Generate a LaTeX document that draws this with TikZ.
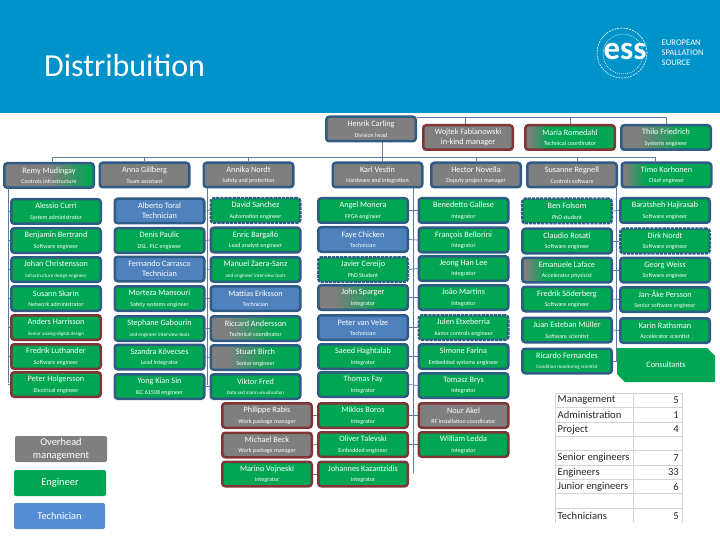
\documentclass[tikz,border=0pt]{standalone}
\usepackage{fontspec}
\setmainfont{Carlito}
\usetikzlibrary{shapes.misc}
\definecolor{essblue}{HTML}{0093C9}
\definecolor{boxgreen}{HTML}{00A651}
\definecolor{boxgray}{HTML}{7F7F7F}
\definecolor{boxblue}{HTML}{4F81BD}
\definecolor{legblue}{HTML}{558ED5}
\definecolor{edgeblue}{HTML}{2F5C85}
\definecolor{edgered}{HTML}{7F3535}
\definecolor{wireblue}{HTML}{5B7C9C}
\definecolor{cellgray}{HTML}{D4D4D4}
\pgfdeclarehorizontalshading{graystart}{100bp}{color(0bp)=(boxgray); color(27bp)=(boxgray); color(38bp)=(boxgreen); color(100bp)=(boxgreen)}
\pgfdeclarehorizontalshading{graymid}{100bp}{color(0bp)=(boxgray); color(34bp)=(boxgray); color(60bp)=(boxgreen); color(100bp)=(boxgreen)}
\pgfdeclarehorizontalshading{graylate}{100bp}{color(0bp)=(boxgray); color(50bp)=(boxgray); color(74bp)=(boxgreen); color(100bp)=(boxgreen)}
\newcommand{\who}[2]{#1\\[1.6pt]{\fontsize{6}{7}\selectfont #2}}
\newcommand{\whotwo}[2]{#1\\[1pt]#2}
\tikzset{
	person/.style={rounded corners=3pt, draw=edgeblue, line width=2.5pt, minimum width=89.5pt, minimum height=24.5pt, inner sep=0pt, text=white, align=center, font=\fontsize{8.2}{9}\selectfont},
	eng/.style={person, fill=boxgreen},
	ovh/.style={person, fill=boxgray},
	tech/.style={person, fill=boxblue},
	fade/.style={person, shading=graymid},
	fadelate/.style={person, shading=graylate},
	fadeleft/.style={person, shading=graystart},
	redge/.style={draw=edgered},
	dashedge/.style={dash pattern=on 3.2pt off 0.9pt},
	wire/.style={draw=wireblue, line width=0.7pt},
	legend/.style={rounded corners=2pt, minimum width=92pt, minimum height=26pt, inner sep=0pt, text=white, align=center, font=\fontsize{10.4}{13}\selectfont},
	cell/.style={draw=cellgray, line width=0.6pt},
	tabl/.style={anchor=west, inner sep=0pt, text=black!85, font=\fontsize{10.6}{12}\selectfont},
	tabn/.style={anchor=east, inner sep=0pt, text=black!85, font=\fontsize{10.6}{12}\selectfont},
	logotext/.style={anchor=west, inner sep=0pt, text=white, font=\fontsize{8.6}{9}\selectfont}
}
\begin{document}
\begin{tikzpicture}[x=1pt,y=1pt]
	\useasboundingbox (0,0) rectangle (720,-540);
	\fill [essblue] (0,0) rectangle (720,-113);
	\node [anchor=base west, inner sep=0pt, text=white, font=\fontsize{32}{34}\selectfont] (title) at (44,-77) {Distribuition};
	% logo
	\draw [white, line width=0.6pt, dash pattern=on 2pt off 1pt] (622,-53) circle (25);
	\draw [white, line width=0.5pt, dash pattern=on 1pt off 1pt] (623,-54) circle (20);
	\node [inner sep=0pt, text=white, font=\fontsize{33}{33}\bfseries\selectfont] (esslogo) at (625,-51) {ess};
	\node [logotext] (eu) at (661.5,-42.5) {EUROPEAN};
	\node [logotext] (spall) at (661.5,-52.5) {SPALLATION};
	\node [logotext] (source) at (661.5,-62.5) {SOURCE};
	% top of the tree
	\node [ovh] (henrik) at (371,-129) {\who{Henrik Carling}{Division head}};
	\node [ovh, redge] (wojtek) at (468,-137.5) {\whotwo{Wojtek Fabianowski}{in-kind manager}};
	\node [fadeleft, redge] (maria) at (570,-137.5) {\who{Maria Romedahl}{Technical coordinator}};
	\node [fade] (thilo) at (666,-137.5) {\who{Thilo Friedrich}{Systems engineer}};
	\node [fadelate] (remy) at (49,-175.5) {\who{Remy Mudingay}{Controls infrastructure}};
	\node [ovh] (anna) at (144.5,-175) {\who{Anna Gillberg}{Team assistant}};
	\node [ovh] (annika) at (248.5,-175) {\who{Annika Nordt}{Safety and protection}};
	\node [ovh] (karl) at (377.5,-175) {\who{Karl Vestin}{Hardware and integration}};
	\node [ovh] (hector) at (476,-175) {\who{Hector Novella}{Deputy project manager}};
	\node [ovh] (susanne) at (572,-175) {\who{Susanne Regnell}{Controls software}};
	\node [fadeleft] (timo) at (666.5,-175) {\who{Timo Korhonen}{Chief engineer}};
	% first column
	\node [eng] (curri) at (56,-211.5) {\who{Alessio Curri}{System administrator}};
	\node [eng] (bertrand) at (56,-240.5) {\who{Benjamin Bertrand}{Software engineer}};
	\node [eng] (johan) at (56,-269.5) {\who{Johan Christensson}{\fontsize{5}{6}\selectfont Infrastructure design engineer}};
	\node [eng] (karin) at (56,-298.5) {\who{Susann Skarin}{Network administrator}};
	\node [eng, redge] (anders) at (56,-327.5) {\who{Anders Harrisson}{\fontsize{5}{6}\selectfont Senior analog-digital design}};
	\node [eng, redge] (luthander) at (56,-356.5) {\who{Fredrik Luthander}{Software engineer}};
	\node [eng, redge] (holgersson) at (56,-384.5) {\who{Peter Holgersson}{Electrical engineer}};
	% second column
	\node [tech] (toral) at (159.5,-211) {\whotwo{Alberto Toral}{Technician}};
	\node [eng] (paulic) at (159.5,-240.5) {\who{Denis Paulic}{DSL, PLC engineer}};
	\node [tech] (carrasco) at (159.5,-269) {\whotwo{Fernando Carrasco}{Technician}};
	\node [eng] (mansouri) at (159.5,-298.5) {\who{Morteza Mansouri}{Safety systems engineer}};
	\node [eng] (gabourin) at (159.5,-328.5) {\who{Stephane Gabourin}{\fontsize{5.2}{6}\selectfont and engineer interview tools}};
	\node [eng] (kovecses) at (159.5,-357) {\who{Szandra K\H{o}vecses}{Lead integrator}};
	\node [eng] (kiansin) at (159.5,-386.5) {\who{Yong Kian Sin}{IEC 61508 engineer}};
	% third column
	\node [eng, dashedge] (sanchez) at (255.5,-210.5) {\who{David Sanchez}{Automation engineer}};
	\node [eng] (bargallo) at (255.5,-240) {\who{Enric Bargall\'o}{Lead analyst engineer}};
	\node [eng] (zaera) at (255.5,-269.5) {\who{Manuel Zaera-Sanz}{\fontsize{5.2}{6}\selectfont and engineer interview tools}};
	\node [tech] (eriksson) at (255.5,-298.5) {\who{Mattias Eriksson}{Technician}};
	\node [fade] (riccard) at (255.5,-328.5) {\who{Riccard Andersson}{Technical coordinator}};
	\node [fade] (birch) at (255.5,-357.5) {\who{Stuart Birch}{Senior engineer}};
	\node [eng] (fredv) at (255.5,-386.5) {\who{Viktor Fred}{\fontsize{5}{6}\selectfont Data and alarm visualisation}};
	\node [ovh, redge] (rabis) at (267,-415.5) {\who{Philippe Rabis}{Work package manager}};
	\node [ovh, redge] (beck) at (267,-445) {\who{Michael Beck}{Work package manager}};
	\node [eng, redge] (vojneski) at (267,-474) {\who{Marino Vojneski}{Integrator}};
	% fourth column
	\node [eng] (monera) at (363,-210.5) {\who{Angel Monera}{FPGA engineer}};
	\node [tech] (chicken) at (363,-239.5) {\who{Faye Chicken}{Technician}};
	\node [eng, dashedge] (cereijo) at (363,-269.5) {\who{Javier Cereijo}{PhD Student}};
	\node [fade] (sparger) at (363,-297.5) {\who{John Sparger}{Integrator}};
	\node [tech] (velze) at (363,-327.5) {\who{Peter van Velze}{Technician}};
	\node [eng] (haghtalab) at (363,-356.5) {\who{Saeed Haghtalab}{Integrator}};
	\node [eng] (fay) at (363,-384.5) {\who{Thomas Fay}{Integrator}};
	\node [eng, redge] (boros) at (363,-415.5) {\who{Miklos Boros}{Integrator}};
	\node [eng, redge] (talevski) at (363,-444.5) {\who{Oliver Talevski}{Embedded engineer}};
	\node [eng, redge] (kazantzidis) at (363,-474) {\who{Johannes Kazantzidis}{Integrator}};
	% fifth column
	\node [eng] (gallese) at (463.5,-210.5) {\who{Benedetto Gallese}{Integrator}};
	\node [eng] (bellorini) at (463.5,-240) {\who{Fran\c{c}ois Bellorini}{Integrator}};
	\node [eng] (lee) at (463.5,-268.5) {\who{Jeong Han Lee}{Integrator}};
	\node [eng] (martins) at (463.5,-297.5) {\who{Jo\~ao Martins}{Integrator}};
	\node [eng, dashedge] (etxeberria) at (463.5,-327.5) {\who{Julen Etxeberria}{Junior controls engineer}};
	\node [eng] (farina) at (463.5,-356.5) {\who{Simone Farina}{Embedded systems engineer}};
	\node [eng] (brys) at (463.5,-385.5) {\who{Tomasz Brys}{Integrator}};
	\node [ovh, redge] (akel) at (463.5,-415.5) {\who{Nour Akel}{RF installation coordinator}};
	\node [eng, redge] (ledda) at (463.5,-444.5) {\who{William Ledda}{Integrator}};
	% sixth column
	\node [eng, dashedge] (folsom) at (567,-211) {\who{Ben Folsom}{PhD student}};
	\node [eng] (rosati) at (567,-241) {\who{Claudio Rosati}{Software engineer}};
	\node [fadeleft] (laface) at (567,-270) {\who{Emanuele Laface}{Accelerator physicist}};
	\node [eng] (soderberg) at (567,-299) {\who{Fredrik S\"oderberg}{Software engineer}};
	\node [eng] (muller) at (567,-330) {\who{Juan Esteban M\"uller}{Software scientist}};
	\node [eng] (fernandes) at (567,-361) {\who{Ricardo Fernandes}{\fontsize{5}{6}\selectfont Condition monitoring scientist}};
	% seventh column
	\node [eng] (hajirasab) at (665,-210.5) {\who{Baratsheh Hajirasab}{Software engineer}};
	\node [eng, dashedge] (nordt) at (665,-241) {\who{Dirk Nordt}{Software engineer}};
	\node [eng] (weiss) at (665,-270) {\who{Georg Weiss}{Software engineer}};
	\node [eng] (persson) at (665,-299.5) {\who{Jan-\AA ke Persson}{Senior software engineer}};
	\node [eng] (rathsman) at (665,-330.5) {\who{Karin Rathsman}{Accelerator scientist}};
	\node [draw=none, fill=boxgreen, text=white, chamfered rectangle, chamfered rectangle corners={north east,south west}, chamfered rectangle sep=5pt, minimum width=98pt, minimum height=34pt, inner sep=0pt, font=\fontsize{8.2}{9}\selectfont] (consultants) at (666,-365) {Consultants};
	% connectors
	\coordinate (topbus) at (382,-157);
	\coordinate (upbus) at (465,-117);
	\coordinate (busa) at (8,-188);
	\coordinate (busc) at (207.5,-188);
	\coordinate (busd) at (413.5,-188);
	\coordinate (busf) at (616,-188);
	\draw [wire] (topbus |- henrik.south) -- (topbus);
	\draw [wire] (52,-157) -- (655,-157);
	\draw [wire] (52,-157) -- (52,-163);
	\draw [wire] (anna.north) -- (anna.north |- topbus);
	\draw [wire] (annika.north) -- (annika.north |- topbus);
	\draw [wire] (hector.north) -- (hector.north |- topbus);
	\draw [wire] (577,-162) -- (577,-157);
	\draw [wire] (655,-162) -- (655,-157);
	\draw [wire] (topbus) -- (topbus |- karl.north);
	\draw [wire] (henrik.east |- upbus) -- (thilo.north |- upbus);
	\draw [wire] (upbus) -- (upbus |- wojtek.north);
	\draw [wire] (maria.north |- upbus) -- (maria.north);
	\draw [wire] (thilo.north |- upbus) -- (thilo.north);
	\draw [wire] (busa) -- (8,-383);
	\draw [wire] (busc) -- (207.5,-385);
	\draw [wire] (busd) -- (413.5,-473);
	\draw [wire] (busf) -- (616,-361);
	\draw [wire] (curri.west) -- (curri.west -| busa);
	\draw [wire] (bertrand.west) -- (bertrand.west -| busa);
	\draw [wire] (johan.west) -- (johan.west -| busa);
	\draw [wire] (karin.west) -- (karin.west -| busa);
	\draw [wire] (anders.west) -- (anders.west -| busa);
	\draw [wire] (luthander.west) -- (luthander.west -| busa);
	\draw [wire] (holgersson.west) -- (holgersson.west -| busa);
	\draw [wire] (toral.east) -- (sanchez.west);
	\draw [wire] (paulic.east) -- (bargallo.west);
	\draw [wire] (carrasco.east) -- (zaera.west);
	\draw [wire] (mansouri.east) -- (eriksson.west);
	\draw [wire] (gabourin.east) -- (riccard.west);
	\draw [wire] (kovecses.east) -- (birch.west);
	\draw [wire] (kiansin.east) -- (fredv.west);
	\draw [wire] (rabis.east) -- (boros.west);
	\draw [wire] (beck.east) -- (talevski.west);
	\draw [wire] (vojneski.east) -- (kazantzidis.west);
	\draw [wire] (monera.east) -- (gallese.west);
	\draw [wire] (chicken.east) -- (bellorini.west);
	\draw [wire] (cereijo.east) -- (lee.west);
	\draw [wire] (sparger.east) -- (martins.west);
	\draw [wire] (velze.east) -- (etxeberria.west);
	\draw [wire] (haghtalab.east) -- (farina.west);
	\draw [wire] (fay.east) -- (brys.west);
	\draw [wire] (boros.east) -- (akel.west);
	\draw [wire] (talevski.east) -- (ledda.west);
	\draw [wire] (folsom.east) -- (hajirasab.west);
	\draw [wire] (rosati.east) -- (nordt.west);
	\draw [wire] (laface.east) -- (weiss.west);
	\draw [wire] (soderberg.east) -- (persson.west);
	\draw [wire] (muller.east) -- (rathsman.west);
	\draw [wire] (fernandes.east) -- (fernandes.east -| consultants.west);
	% legend
	\node [legend, fill=boxgray] (legovh) at (61,-449) {Overhead\\management};
	\node [legend, fill=boxgreen] (legeng) at (60,-483) {Engineer};
	\node [legend, fill=legblue, minimum width=91pt] (legtech) at (59.5,-516) {Technician};
	% table
	\draw [cell] (555,-393) -- (682,-393);
	\draw [cell] (555,-407.5) -- (682,-407.5);
	\draw [cell] (555,-422) -- (682,-422);
	\draw [cell] (555,-436) -- (682,-436);
	\draw [cell] (555,-450.5) -- (682,-450.5);
	\draw [cell] (555,-465) -- (682,-465);
	\draw [cell] (555,-479) -- (682,-479);
	\draw [cell] (555,-493.5) -- (682,-493.5);
	\draw [cell] (555,-508) -- (682,-508);
	\draw [cell] (555,-393) -- (555,-523);
	\draw [cell] (633,-393) -- (633,-523);
	\draw [cell] (682,-393) -- (682,-523);
	\node [tabl] (tmgmt) at (557.5,-400.5) {Management};
	\node [tabn] (nmgmt) at (679,-400.5) {5};
	\node [tabl] (tadmin) at (557.5,-415) {Administration};
	\node [tabn] (nadmin) at (679,-415) {1};
	\node [tabl] (tproj) at (557.5,-429.5) {Project};
	\node [tabn] (nproj) at (679,-429.5) {4};
	\node [tabl] (tsenior) at (557.5,-458) {Senior engineers};
	\node [tabn] (nsenior) at (679,-458) {7};
	\node [tabl] (tengs) at (557.5,-472.5) {Engineers};
	\node [tabn] (nengs) at (679,-472.5) {33};
	\node [tabl] (tjunior) at (557.5,-487) {Junior engineers};
	\node [tabn] (njunior) at (679,-487) {6};
	\node [tabl] (ttechs) at (557.5,-516) {Technicians};
	\node [tabn] (ntechs) at (679,-516) {5};
\end{tikzpicture}
\end{document}
